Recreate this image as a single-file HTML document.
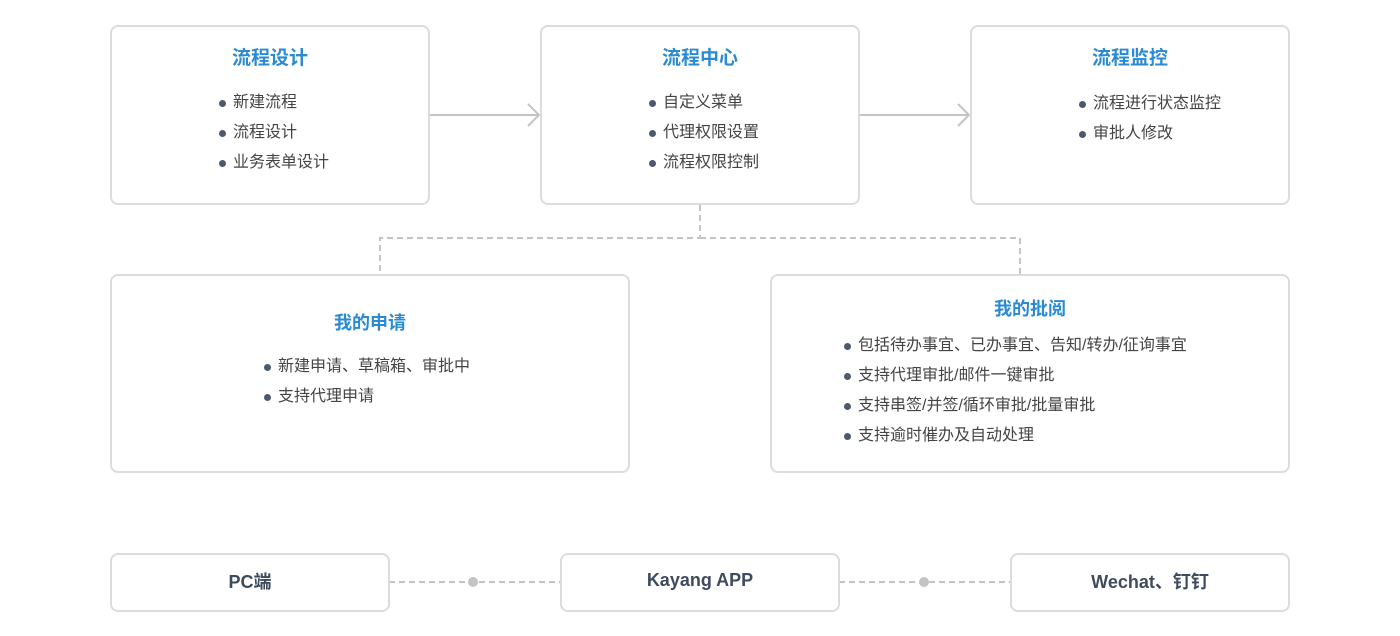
<!DOCTYPE html>
<html><head><meta charset="utf-8"><style>
body{margin:0;width:1400px;height:636px;background:#fff;position:relative;overflow:hidden;font-family:"Liberation Sans","Noto Sans CJK SC",sans-serif;}
.b{position:absolute;box-sizing:border-box;border:2px solid #dcdcdc;border-radius:8px;background:#fff;}
.t{position:absolute;left:0;right:0;text-align:center;color:#2a8bd3;font-weight:bold;font-size:19px;}
.l{position:absolute;font-size:16px;color:#444;}
.l div{height:30px;line-height:30px;position:relative;padding-left:14px;}
.l div:before{content:"";position:absolute;left:0;top:12px;width:7px;height:7px;border-radius:50%;background:#4a5870;}
.p{position:absolute;text-align:center;left:0;right:0;font-weight:bold;font-size:18px;color:#3e4b5e;top:13px;}
</style></head><body>
<svg style="position:absolute;left:0;top:0" width="1400" height="636">
<g stroke="#c4c4c4" stroke-width="2" fill="none">
<line x1="429" y1="115" x2="539" y2="115"/><polyline points="528,104 539,115 528,126"/>
<line x1="859" y1="115" x2="969" y2="115"/><polyline points="958,104 969,115 958,126"/>
<g stroke-dasharray="6,4"><polyline points="700,205 700,238 380,238 380,275"/><polyline points="700,238 1020,238 1020,275"/>
<line x1="389" y1="582" x2="561" y2="582"/><line x1="839" y1="582" x2="1011" y2="582"/></g>
</g>
<circle cx="473" cy="582" r="5" fill="#c4c4c4"/><circle cx="924" cy="582" r="5" fill="#c4c4c4"/>
</svg>
<div class="b" style="left:110px;top:25px;width:320px;height:180px"><div class="t" style="top:16px">流程设计</div>
<div class="l" style="left:107px;top:61px"><div>新建流程</div><div>流程设计</div><div>业务表单设计</div></div></div>
<div class="b" style="left:540px;top:25px;width:320px;height:180px"><div class="t" style="top:16px">流程中心</div>
<div class="l" style="left:107px;top:61px"><div>自定义菜单</div><div>代理权限设置</div><div>流程权限控制</div></div></div>
<div class="b" style="left:970px;top:25px;width:320px;height:180px"><div class="t" style="top:16px">流程监控</div>
<div class="l" style="left:107px;top:62px"><div>流程进行状态监控</div><div>审批人修改</div></div></div>
<div class="b" style="left:110px;top:274px;width:520px;height:199px"><div class="t" style="top:33px;font-size:18px">我的申请</div>
<div class="l" style="left:152px;top:76px"><div>新建申请、草稿箱、审批中</div><div>支持代理申请</div></div></div>
<div class="b" style="left:770px;top:274px;width:520px;height:199px"><div class="t" style="top:19px;font-size:18px">我的批阅</div>
<div class="l" style="left:72px;top:55px"><div>包括待办事宜、已办事宜、告知/转办/征询事宜</div><div>支持代理审批/邮件一键审批</div><div>支持串签/并签/循环审批/批量审批</div><div>支持逾时催办及自动处理</div></div></div>
<div class="b" style="left:110px;top:553px;width:280px;height:59px"><div class="p">PC端</div></div>
<div class="b" style="left:560px;top:553px;width:280px;height:59px"><div class="p" style="top:15px">Kayang APP</div></div>
<div class="b" style="left:1010px;top:553px;width:280px;height:59px"><div class="p">Wechat、钉钉</div></div>
</body></html>
